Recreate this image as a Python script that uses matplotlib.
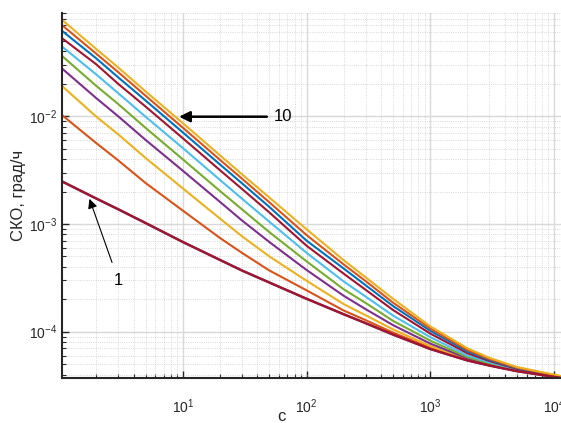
import matplotlib
matplotlib.use('Agg')
import matplotlib.pyplot as plt

plt.rcParams['font.family'] = ['Liberation Sans', 'DejaVu Sans']
plt.rcParams['mathtext.default'] = 'regular'

# time, s
tau = [1.05, 2, 3, 5, 10, 20, 30, 50, 100, 200, 300, 500, 1000, 2000, 3000, 5000, 11400]

# SKO curves 1..10
sko = [
    [2.49e-3, 1.72e-3, 1.37e-3, 1.02e-3, 6.8e-4, 4.63e-4, 3.7e-4, 2.86e-4, 2.02e-4, 1.45e-4, 1.2e-4, 9.4e-5, 6.9e-5, 5.4e-5, 4.85e-5, 4.3e-5, 3.72e-5],
    [1.03e-2, 5.62e-3, 3.9e-3, 2.4e-3, 1.33e-3, 7.4e-4, 5.4e-4, 3.7e-4, 2.42e-4, 1.57e-4, 1.28e-4, 9.8e-5, 7.1e-5, 5.45e-5, 4.88e-5, 4.32e-5, 3.73e-5],
    [1.92e-2, 9.9e-3, 6.8e-3, 4.1e-3, 2.14e-3, 1.12e-3, 7.7e-4, 5.0e-4, 2.97e-4, 1.8e-4, 1.42e-4, 1.05e-4, 7.35e-5, 5.5e-5, 4.92e-5, 4.34e-5, 3.74e-5],
    [2.79e-2, 1.47e-2, 1.0e-2, 6.03e-3, 3.12e-3, 1.6e-3, 1.08e-3, 6.8e-4, 3.74e-4, 2.15e-4, 1.62e-4, 1.15e-4, 7.75e-5, 5.65e-5, 5.0e-5, 4.37e-5, 3.75e-5],
    [3.65e-2, 1.91e-2, 1.3e-2, 7.8e-3, 3.98e-3, 2.02e-3, 1.37e-3, 8.4e-4, 4.5e-4, 2.47e-4, 1.85e-4, 1.26e-4, 8.25e-5, 5.8e-5, 5.07e-5, 4.4e-5, 3.76e-5],
    [4.46e-2, 2.44e-2, 1.64e-2, 9.9e-3, 5.07e-3, 2.56e-3, 1.72e-3, 1.05e-3, 5.4e-4, 2.92e-4, 2.12e-4, 1.41e-4, 8.9e-5, 6.0e-5, 5.2e-5, 4.45e-5, 3.78e-5],
    [5.33e-2, 3.03e-2, 2.0e-2, 1.23e-2, 6.25e-3, 3.15e-3, 2.12e-3, 1.28e-3, 6.28e-4, 3.45e-4, 2.45e-4, 1.59e-4, 9.6e-5, 6.3e-5, 5.35e-5, 4.52e-5, 3.8e-5],
    [6.24e-2, 3.44e-2, 2.3e-2, 1.4e-2, 7.08e-3, 3.56e-3, 2.39e-3, 1.44e-3, 7.0e-4, 3.85e-4, 2.7e-4, 1.73e-4, 1.02e-4, 6.55e-5, 5.47e-5, 4.58e-5, 3.82e-5],
    [7.05e-2, 3.8e-2, 2.57e-2, 1.55e-2, 7.83e-3, 3.93e-3, 2.64e-3, 1.59e-3, 7.89e-4, 4.2e-4, 2.95e-4, 1.86e-4, 1.07e-4, 6.75e-5, 5.58e-5, 4.63e-5, 3.84e-5],
    [7.89e-2, 4.2e-2, 2.84e-2, 1.7e-2, 8.63e-3, 4.33e-3, 2.9e-3, 1.76e-3, 8.93e-4, 4.6e-4, 3.2e-4, 2.02e-4, 1.12e-4, 7.0e-5, 5.72e-5, 4.7e-5, 3.87e-5],
]

# matlab default color order
colors = ['#0072BD', '#D95319', '#EDB120', '#7E2F8E', '#77AC30', '#4DBEEE', '#A2142F']

fig = plt.figure(figsize=(5.61, 4.23), dpi=100)
ax = fig.add_axes([0.110, 0.1057, 0.890, 0.863])

for i in range(len(sko)):
    ax.loglog(tau, sko[i], color=colors[i % 7], lw=1.5)
# curve 1 is covered by a dark red line
ax.loglog(tau, sko[0], color='#A2142F', lw=1.8)

ax.set_xlim(1.05, 11400)
ax.set_ylim(3.69e-5, 0.0904)

ax.grid(True, which='major', color='#d9d9d9', lw=1.0, ls='-')
ax.grid(True, which='minor', color='#cccccc', lw=0.6, ls=':')
ax.set_axisbelow(True)

for s in ['top', 'right']:
    ax.spines[s].set_visible(False)
for s in ['left', 'bottom']:
    ax.spines[s].set_linewidth(1.5)
    ax.spines[s].set_color('#262626')

ax.tick_params(which='both', direction='in', colors='#262626', labelsize=10)
ax.tick_params(which='major', length=5, width=1.0)
ax.tick_params(which='minor', length=3, width=0.8)
ax.tick_params(axis='x', which='major', pad=14)
ax.tick_params(axis='y', which='major', pad=3)

ax.set_xlabel('с', fontsize=12, color='#262626', va='center')
ax.xaxis.set_label_coords(0.44, -0.104)
ax.set_ylabel('СКО, град/ч', fontsize=12, color='#262626', labelpad=2)

ax.annotate('10', xy=(9.33, 0.0099), xytext=(64.6, 0.0099),
            fontsize=12, ha='center', va='center',
            arrowprops=dict(arrowstyle='-|>', color='k', lw=1.8,
                            mutation_scale=16, shrinkA=3, shrinkB=0))
ax.annotate('1', xy=(1.76, 1.71e-3), xytext=(3.02, 2.98e-4),
            fontsize=12, ha='center', va='center',
            arrowprops=dict(arrowstyle='-|>', color='k', lw=0.8,
                            mutation_scale=14, shrinkA=6, shrinkB=0))

fig.savefig('out.png', dpi=100)
